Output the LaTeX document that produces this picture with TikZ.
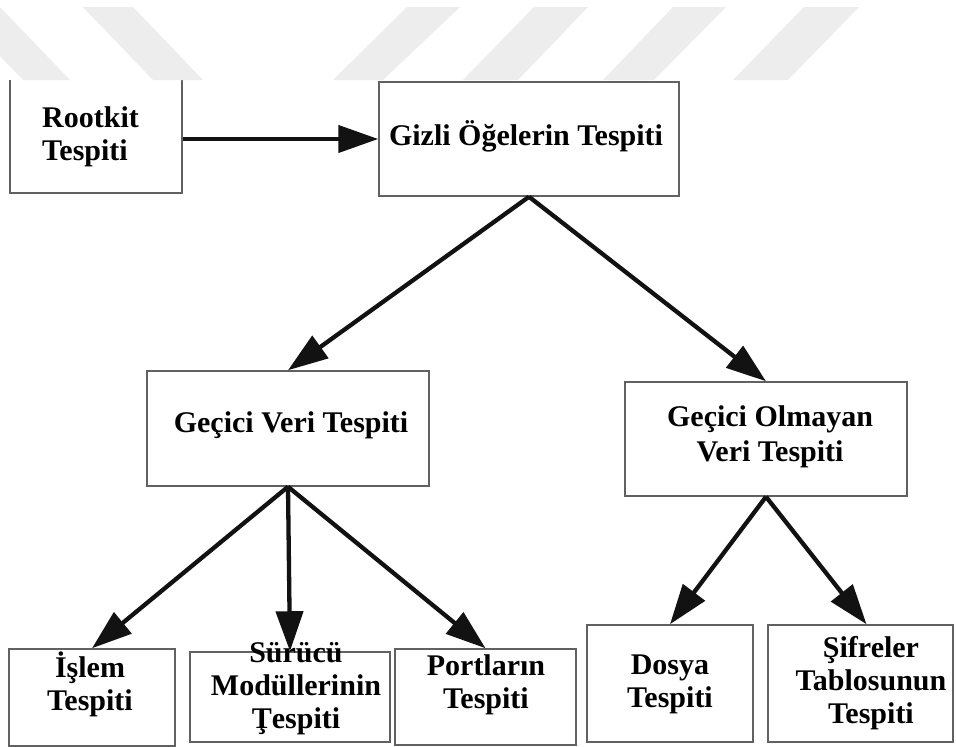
\documentclass[tikz,border=0pt]{standalone}
\usepackage{fontspec}
\setmainfont{Liberation Serif}
\usetikzlibrary{arrows.meta}
\begin{document}
\begin{tikzpicture}[x=1pt,y=-1pt,
  box/.style={draw=black!62,line width=1.5pt,rectangle,inner sep=0pt,fill=white},
  lbl/.style={font=\bfseries\fontsize{30}{33}\selectfont,align=center,inner sep=0pt,text=black},
  link/.style={line width=4.3pt,draw=black!93,-{Triangle[length=40pt,width=27pt]}},
  stripe/.style={fill=black!7,draw=none}]
\useasboundingbox (0,0) rectangle (956,747);
\fill[white] (0,0) rectangle (956,747);

% boxes
\node[box,minimum width=172pt,minimum height=123pt] (root) at (96,131.5) {};
\node[box,minimum width=300pt,minimum height=114pt] (giz) at (529,139) {};
\node[box,minimum width=282pt,minimum height=115pt] (gv) at (288,428.5) {};
\node[box,minimum width=282pt,minimum height=114pt] (go) at (766,439) {};
\node[box,minimum width=166pt,minimum height=97pt] (isl) at (92,697.5) {};
\node[box,minimum width=200pt,minimum height=90pt] (sur) at (290,697) {};
\node[box,minimum width=181pt,minimum height=96pt] (por) at (485.5,697) {};
\node[box,minimum width=166pt,minimum height=117pt] (dos) at (670,683.5) {};
\node[box,minimum width=185pt,minimum height=117pt] (sif) at (860.5,683.5) {};

% labels
\node[lbl,align=left,anchor=west] (troot) at (42,136.5) {Rootkit\\Tespiti};
\node[lbl,anchor=base] (tgiz) at (526,145) {Gizli Öğelerin Tespiti};
\node[lbl,anchor=base] (tgv) at (291,432) {Geçici Veri Tespiti};
\node[lbl,font=\bfseries\fontsize{30}{35}\selectfont] (tgo) at (770,437) {Geçici Olmayan\\Veri Tespiti};
\node[lbl] (tisl) at (90,684) {İşlem\\Tespiti};
\node[lbl] (tsur) at (296,689) {Sürücü\\Modüllerinin\\Ţespiti};
\node[lbl] (tpor) at (486,685) {Portların\\Tespiti};
\node[lbl] (tdos) at (670,684.5) {Dosya\\Tespiti};
\node[lbl] (tsif) at (871,683.5) {Şifreler\\Tablosunun\\Tespiti};

% connectors
\draw[link] (root.east |- giz.west) -- (giz.west);
\draw[link] (giz.south) -- (gv.north);
\draw[link] (giz.south) -- (go.north);
\draw[link] (gv.south) -- (isl.north);
\draw[link] (gv.south) -- (sur.north);
\draw[link] (gv.south) -- (por.north);
\draw[link] (go.south) -- (dos.north);
\draw[link] (go.south) -- ([xshift=6pt]sif.north);

% watermark band along the top edge
\fill[white] (-2,-2) rectangle (958,80);
\fill[stripe] (-47,7) -- (0,7) -- (70,80) -- (23,80) -- cycle;
\fill[stripe] (83,7) -- (133,7) -- (203,80) -- (153,80) -- cycle;
\fill[stripe] (407,7) -- (460,7) -- (383,80) -- (333,80) -- cycle;
\fill[stripe] (534,7) -- (588,7) -- (518,80) -- (463,80) -- cycle;
\fill[stripe] (673,7) -- (726,7) -- (654,80) -- (603,80) -- cycle;
\fill[stripe] (804,7) -- (859,7) -- (788,80) -- (733,80) -- cycle;
\end{tikzpicture}
\end{document}
